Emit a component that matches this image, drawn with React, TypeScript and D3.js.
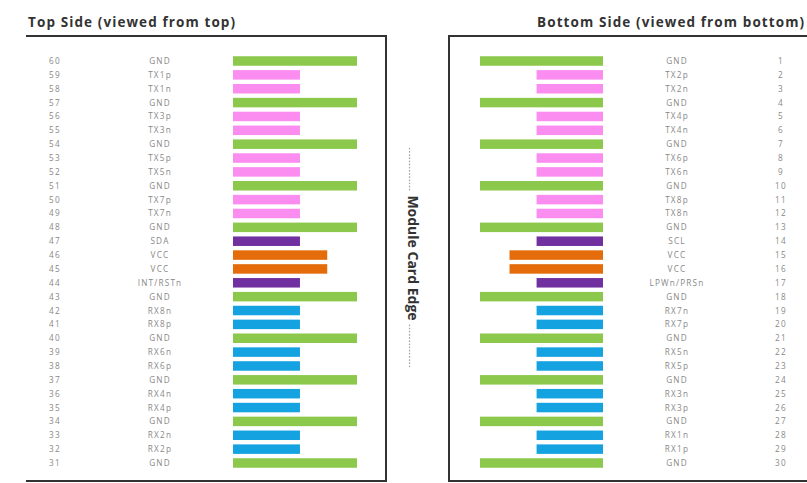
import * as d3 from 'd3'
import { FC } from 'react'

// pin numbers and signal names, top side listed from pin 60 down to 31
const topPins = d3.range(60, 30, -1)
const topNames = [
  'GND', 'TX1p', 'TX1n', 'GND', 'TX3p', 'TX3n', 'GND', 'TX5p', 'TX5n', 'GND',
  'TX7p', 'TX7n', 'GND', 'SDA', 'VCC', 'VCC', 'INT/RSTn', 'GND', 'RX8n', 'RX8p',
  'GND', 'RX6n', 'RX6p', 'GND', 'RX4n', 'RX4p', 'GND', 'RX2n', 'RX2p', 'GND',
]
const bottomPins = d3.range(1, 31)
const bottomNames = [
  'GND', 'TX2p', 'TX2n', 'GND', 'TX4p', 'TX4n', 'GND', 'TX6p', 'TX6n', 'GND',
  'TX8p', 'TX8n', 'GND', 'SCL', 'VCC', 'VCC', 'LPWn/PRSn', 'GND', 'RX7n', 'RX7p',
  'GND', 'RX5n', 'RX5p', 'GND', 'RX3n', 'RX3p', 'GND', 'RX1n', 'RX1p', 'GND',
]

// bar length per pin group (relative units) and colours
const groups = ['GND', 'VCC', 'TX', 'RX', 'CTRL']
const groupLength = [100, 76, 54, 54, 54]
const groupColor = ['#8cc84b', '#e46c0a', '#fb8cf0', '#14a3e0', '#7030a0']

const groupOf = (name: string) => {
  if (name === 'GND') return 0
  if (name === 'VCC') return 1
  if (name.startsWith('TX')) return 2
  if (name.startsWith('RX')) return 3
  return 4
}

const W = 807
const H = 483
const textFont = '"Open Sans", "DejaVu Sans", sans-serif'

interface SideProps {
  pins: number[]
  names: string[]
  side: 'top' | 'bottom'
}

const Side: FC<SideProps> = ({ pins, names, side }) => {
  const y = d3.scalePoint<number>().domain(d3.range(pins.length)).range([61, 463])
  const barH = 9.5
  const left = side === 'top'
  const x = d3.scaleLinear().domain([0, 100]).range(left ? [233, 357] : [603, 480])
  const numX = left ? 55 : 781
  const nameX = left ? 160 : 677
  return (
    <g>
      {pins.map((p, i) => {
        const g = groupOf(names[i])
        const x0 = x(0)
        const x1 = x(groupLength[g])
        return (
          <g key={p}>
            <text x={numX} y={(y(i) as number) + 3} textAnchor="middle" fontSize={8.2}
              letterSpacing={1.2} fill="#888" fontFamily={textFont}>{p}</text>
            <text x={nameX} y={(y(i) as number) + 3} textAnchor="middle" fontSize={8.2}
              letterSpacing={1.2} fill="#888" fontFamily={textFont}>{names[i]}</text>
            <rect x={Math.min(x0, x1)} y={(y(i) as number) - barH / 2}
              width={Math.abs(x1 - x0)} height={barH} fill={groupColor[g]} />
          </g>
        )
      })}
    </g>
  )
}

const App: FC = () => {
  return (
    <svg width={W} height={H} style={{ position: 'absolute', left: 0, top: 0, background: '#fff' }}>
      <rect width={W} height={H} fill="#fff" />
      <text x={28} y={27} fontSize={13.5} letterSpacing={1.1} fontWeight="bold" fill="#333" fontFamily={textFont}>
        Top Side (viewed from top)
      </text>
      <text x={537} y={27} fontSize={13.5} letterSpacing={1.1} fontWeight="bold" fill="#333" fontFamily={textFont}>
        Bottom Side (viewed from bottom)
      </text>
      {/* frames */}
      <path d="M26,36 H386 V481 H26" fill="none" stroke="#333" strokeWidth={2} />
      <path d="M810,36 H449 V481 H810" fill="none" stroke="#333" strokeWidth={2} />
      <Side pins={topPins} names={topNames} side="top" />
      <Side pins={bottomPins} names={bottomNames} side="bottom" />
      <text transform="translate(408,258) rotate(90)" textAnchor="middle" fontSize={14}
        fontWeight="bold" fill="#333" fontFamily={textFont}>
        <tspan fontSize={7} fontWeight="normal" letterSpacing={0.9}>--------------</tspan> Module Card Edge <tspan fontSize={7} fontWeight="normal" letterSpacing={0.9}>--------------</tspan>
      </text>
    </svg>
  )
}

export default App
